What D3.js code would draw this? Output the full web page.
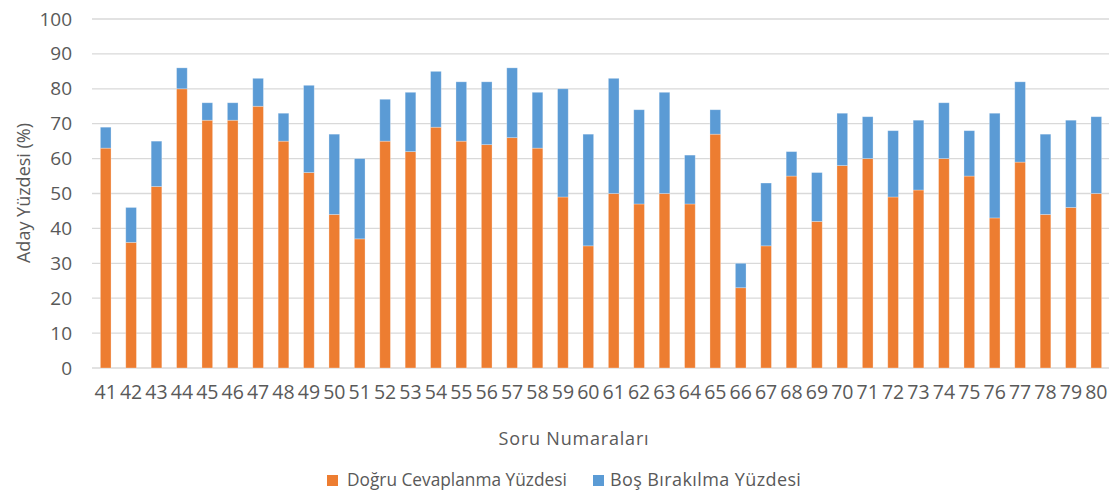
<!DOCTYPE html>
<html>
<head>
<meta charset="utf-8">
<script src="https://cdn.jsdelivr.net/npm/d3@7"></script>
<style>
  body { margin: 0; background: #fff; }
  text { font-family: "Open Sans", "Noto Sans", sans-serif; fill: #595959; }
</style>
</head>
<body>
<div id="chart"></div>
<script>
var svgWidth = 1109;
var svgHeight = 493;

// question numbers
var questions = [41, 42, 43, 44, 45, 46, 47, 48, 49, 50,
  51, 52, 53, 54, 55, 56, 57, 58, 59, 60,
  61, 62, 63, 64, 65, 66, 67, 68, 69, 70,
  71, 72, 73, 74, 75, 76, 77, 78, 79, 80];

// correct answer percentage
var correct = [63, 36, 52, 80, 71, 71, 75, 65, 56, 44,
  37, 65, 62, 69, 65, 64, 66, 63, 49, 35,
  50, 47, 50, 47, 67, 23, 35, 55, 42, 58,
  60, 49, 51, 60, 55, 43, 59, 44, 46, 50];

// left blank percentage
var blank = [6, 10, 13, 6, 5, 5, 8, 8, 25, 23,
  23, 12, 17, 16, 17, 18, 20, 16, 31, 32,
  33, 27, 29, 14, 7, 7, 18, 7, 14, 15,
  12, 19, 20, 16, 13, 30, 23, 23, 25, 22];

var yTicks = [0, 10, 20, 30, 40, 50, 60, 70, 80, 90, 100];

var seriesNames = ["Doğru Cevaplanma Yüzdesi", "Boş Bırakılma Yüzdesi"];
var colors = ["#ED7D31", "#5B9BD5"];

var margin = { top: 19, right: 0, bottom: 125, left: 93 };
var width = svgWidth - margin.left - margin.right;
var height = 368 - margin.top;

var svg = d3.select("#chart")
  .append("svg")
  .attr("width", svgWidth)
  .attr("height", svgHeight);

var chartGroup = svg.append("g")
  .attr("transform", `translate(${margin.left}, ${margin.top})`);

var table = questions.map(function(q, i) {
  return { q: q, correct: correct[i], blank: blank[i] };
});

var stack = d3.stack().keys(["correct", "blank"])(table);

var xScale = d3.scaleBand()
  .domain(questions)
  .range([0, width])
  .paddingInner(0.58)
  .paddingOuter(0.29);

var yScale = d3.scaleLinear()
  .domain([0, 100])
  .range([height, 0]);

// gridlines
chartGroup.selectAll(".grid")
  .data(yTicks)
  .enter()
  .append("line")
  .attr("x1", -1)
  .attr("x2", width)
  .attr("y1", d => yScale(d))
  .attr("y2", d => yScale(d))
  .attr("stroke", "#D9D9D9")
  .attr("stroke-width", 1.3);

// y axis labels
var leftAxis = d3.axisLeft(yScale).tickValues(yTicks).tickSize(0).tickPadding(21);
var yAxisG = chartGroup.append("g").call(leftAxis);
yAxisG.select(".domain").remove();
yAxisG.selectAll("text")
  .attr("font-size", "19px")
  .attr("fill", "#595959")
  .attr("font-family", "Open Sans");

// stacked bars
chartGroup.selectAll(".series")
  .data(stack)
  .enter()
  .append("g")
  .attr("fill", (d, i) => colors[i])
  .selectAll("rect")
  .data(d => d)
  .enter()
  .append("rect")
  .attr("x", d => xScale(d.data.q))
  .attr("y", d => yScale(d[1]))
  .attr("width", xScale.bandwidth())
  .attr("height", d => yScale(d[0]) - yScale(d[1]))
  .attr("stroke", "#fff")
  .attr("stroke-opacity", 0.35)
  .attr("stroke-width", 0.8);

// x axis labels
var bottomAxis = d3.axisBottom(xScale).tickSize(0).tickPadding(17);
var xAxisG = chartGroup.append("g")
  .attr("transform", `translate(0, ${height})`)
  .call(bottomAxis);
xAxisG.select(".domain").remove();
xAxisG.selectAll("text")
  .attr("font-size", "19.5px")
  .attr("fill", "#595959")
  .attr("font-family", "Open Sans");

// axis titles
svg.append("text")
  .attr("transform", "translate(30, 193) rotate(-90)")
  .attr("text-anchor", "middle")
  .attr("font-size", "18px")
  .text("Aday Yüzdesi (%)");

svg.append("text")
  .attr("x", 574)
  .attr("y", 445)
  .attr("text-anchor", "middle")
  .attr("font-size", "18px")
  .attr("letter-spacing", "0.8px")
  .text("Soru Numaraları");

// legend
var legendX = [327, 593];
var legendFont = ["17.3px", "18px"];
var legendSpacing = ["0px", "0.4px"];
var legend = svg.selectAll(".legend")
  .data(seriesNames)
  .enter()
  .append("g")
  .attr("transform", (d, i) => `translate(${legendX[i]}, 475)`);

legend.append("rect")
  .attr("width", 11)
  .attr("height", 11)
  .attr("fill", (d, i) => colors[i]);

legend.append("text")
  .attr("x", (d, i) => i === 0 ? 20 : 17)
  .attr("y", 11)
  .attr("font-size", (d, i) => legendFont[i])
  .attr("letter-spacing", (d, i) => legendSpacing[i])
  .text(d => d);
</script>
</body>
</html>
